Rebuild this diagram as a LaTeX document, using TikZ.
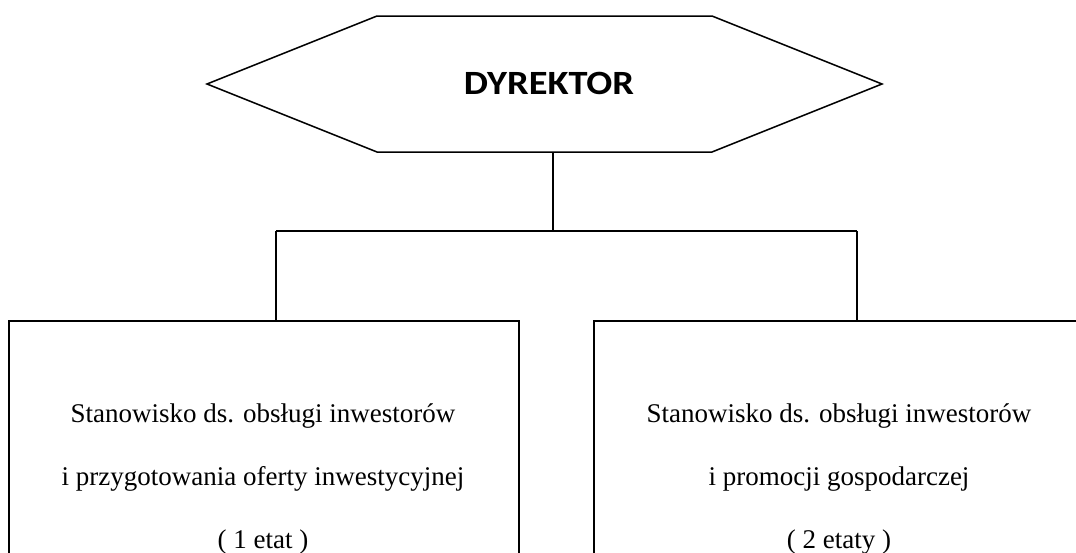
\documentclass[tikz,border=0pt]{standalone}
\usepackage{fontspec}
\setmainfont{Liberation Serif}
\newfontfamily\hexfont{Carlito}
\begin{document}
\begin{tikzpicture}[x=1pt,y=-1pt,line width=1.5pt,
  boxstyle/.style={draw,rectangle,anchor=north west,inner sep=0pt,minimum height=260pt},
  linetext/.style={font=\fontsize{27}{32}\selectfont,anchor=base,inner sep=0pt},
  titletext/.style={font=\hexfont\bfseries\fontsize{34}{34}\selectfont,inner sep=0pt}]
\clip (0,0) rectangle (1076,552);
\fill[white] (0,0) rectangle (1076,552);
% hexagon
\coordinate (hl) at (207,84);
\coordinate (htl) at (377,16);
\coordinate (htr) at (712,16);
\coordinate (hr) at (882,84);
\coordinate (hbr) at (712,152);
\coordinate (hbl) at (377,152);
\draw (hl) -- (htl) -- (htr) -- (hr) -- (hbr) -- (hbl) -- cycle;
\node[titletext] (dyr) at (549,83) {\scalebox{1.13}[1]{DYREKTOR}};
% boxes
\node[boxstyle,minimum width=510pt] (lbox) at (8,320) {};
\node[boxstyle,minimum width=492pt] (rbox) at (593,320) {};
% texts
\node[linetext] (l1) at (263,422) {Stanowisko ds. obsługi inwestorów};
\node[linetext] (l2) at (263,485) {i przygotowania oferty inwestycyjnej};
\node[linetext] (l3) at (263,548) {( 1 etat )};
\node[linetext] (r1) at (839,422) {Stanowisko ds. obsługi inwestorów};
\node[linetext] (r2) at (839,485) {i promocji gospodarczej};
\node[linetext] (r3) at (839,548) {( 2 etaty )};
% connectors
\coordinate (hexbot) at (553,152);
\coordinate (jl) at (276,231);
\coordinate (jr) at (857,231);
\draw (hexbot) -- (hexbot |- jl);
\draw (jl) -- (jr);
\draw (jl) -- (jl |- lbox.north);
\draw (jr) -- (jr |- rbox.north);
\end{tikzpicture}
\end{document}
